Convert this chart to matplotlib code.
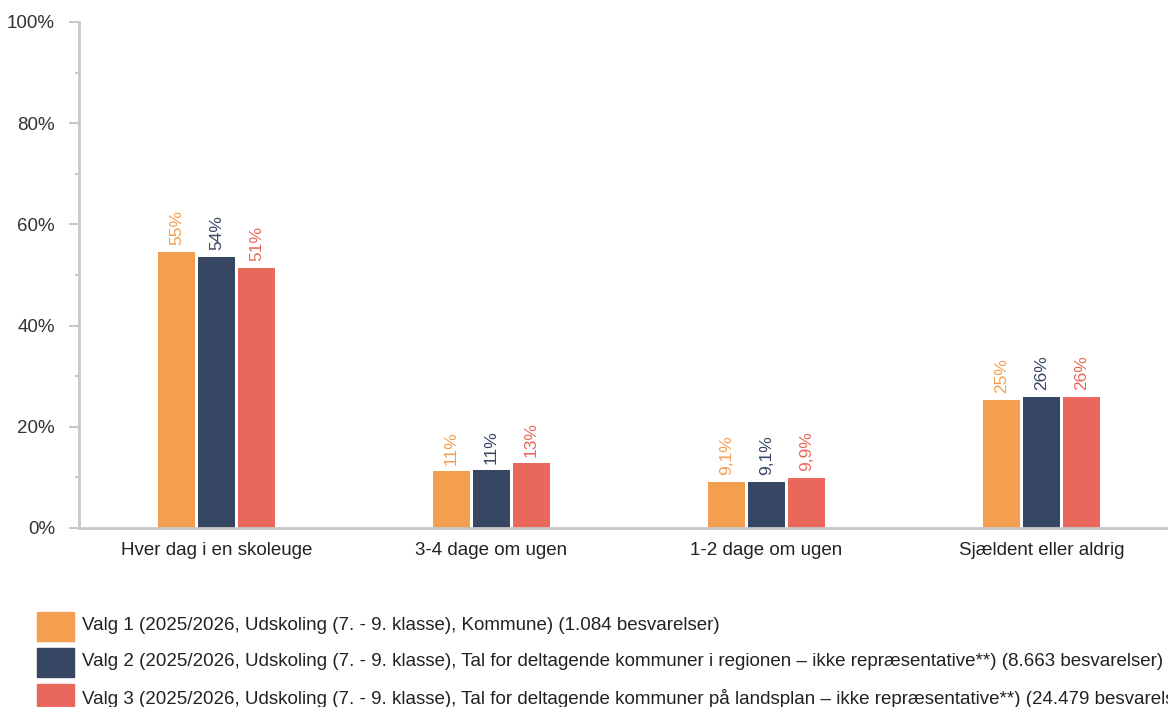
import matplotlib
matplotlib.use('Agg')
import matplotlib.pyplot as plt
import numpy as np
from matplotlib.patches import Rectangle

plt.rcParams['font.family'] = ['Liberation Sans', 'DejaVu Sans']

categories = ['Hver dag i en skoleuge', '3-4 dage om ugen', '1-2 dage om ugen', 'Sjældent eller aldrig']
valg1 = [54.6, 11.2, 9.1, 25.3]
valg2 = [53.6, 11.4, 9.1, 25.9]
valg3 = [51.4, 12.8, 9.9, 25.9]
labels1 = ['55%', '11%', '9,1%', '25%']
labels2 = ['54%', '11%', '9,1%', '26%']
labels3 = ['51%', '13%', '9,9%', '26%']
series_names = [
    'Valg 1 (2025/2026, Udskoling (7. - 9. klasse), Kommune) (1.084 besvarelser)',
    'Valg 2 (2025/2026, Udskoling (7. - 9. klasse), Tal for deltagende kommuner i regionen – ikke repræsentative**) (8.663 besvarelser)',
    'Valg 3 (2025/2026, Udskoling (7. - 9. klasse), Tal for deltagende kommuner på landsplan – ikke repræsentative**) (24.479 besvarelser)',
]
colors = ['#F49F4F', '#374763', '#EA675B']

W, H = 1168, 707
fig = plt.figure(figsize=(W / 100, H / 100), dpi=100)
ax = fig.add_axes([79/W, 1-528/H, 1100/W, 506/H])

x = np.arange(len(categories))
w = 0.138
step = 0.1455
for i, (vals, labs) in enumerate(zip([valg1, valg2, valg3], [labels1, labels2, labels3])):
    pos = x + (i - 1) * step
    ax.bar(pos, vals, width=w, color=colors[i])
    for p, v, l in zip(pos, vals, labs):
        ax.text(p, v + 1.3, l, rotation=90, ha='center', va='bottom',
                color=colors[i], fontsize=12.5)

ax.set_xlim(-0.5, 3.5)
ax.set_ylim(0, 100)
ax.set_yticks(np.arange(0, 101, 20))
ax.set_yticklabels([f'{t}%' for t in range(0, 101, 20)])
ax.set_yticks(np.arange(10, 100, 20), minor=True)
ax.set_xticks(x)
ax.set_xticklabels(categories)
ax.tick_params(axis='x', length=0, pad=10, labelsize=13.5, labelcolor='#222222')
ax.tick_params(axis='y', which='major', length=7.2, width=1.5, color='#c8c8c8',
               pad=10, labelsize=13.5, labelcolor='#333333')
ax.tick_params(axis='y', which='minor', length=2.9, width=1.5, color='#c8c8c8')
for s in ['top', 'right']:
    ax.spines[s].set_visible(False)
for s in ['left', 'bottom']:
    ax.spines[s].set_color('#c8c8c8')
    ax.spines[s].set_linewidth(2)

# legend drawn by hand so the boxes and row spacing match
for i, (name, c) in enumerate(zip(series_names, colors)):
    yc = 626 + 36 * i
    fig.add_artist(Rectangle((37/W, 1-(yc+14.5)/H), 37/W, 29/H,
                             transform=fig.transFigure, color=c))
    fig.text(82/W, 1-yc/H, name, ha='left', va='center', fontsize=13.5, color='#222222')

fig.savefig('out.png', dpi=100)
